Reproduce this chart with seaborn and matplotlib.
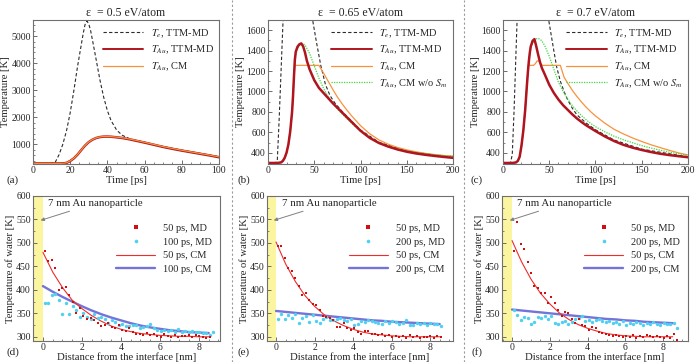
import numpy as np
import seaborn as sb
import matplotlib.pyplot as plt
from matplotlib.lines import Line2D
from matplotlib.ticker import MultipleLocator, AutoMinorLocator
from matplotlib.legend_handler import HandlerLine2D

# ---- datos: paneles superiores (temperatura vs tiempo) ----
titles = ['ε  = 0.5 eV/atom', 'ε  = 0.65 eV/atom', 'ε  = 0.7 eV/atom']

te_a_time = [0, 5, 10, 12, 14, 16, 18, 20, 22, 24, 26, 27, 28, 29, 30, 31, 32, 34, 36, 38,
             40, 42, 45, 48, 52, 56, 60, 65, 70, 75, 80, 85, 90, 95, 100]
te_a = [300, 300, 305, 350, 620, 1000, 1500, 2170, 3000, 3900, 4700, 5100, 5430, 5560, 5450,
        5200, 4850, 4120, 3380, 2750, 2250, 1880, 1530, 1340, 1210, 1150, 1085, 1005, 925, 855,
        790, 730, 670, 610, 545]
au_a_time = [0, 5, 10, 15, 17, 18, 20, 22, 24, 26, 28, 30, 32, 34, 36, 38, 40, 42, 45, 48,
             52, 56, 60, 65, 70, 75, 80, 85, 90, 95, 100]
a_md = [300, 300, 300, 302, 310, 320, 390, 490, 630, 800, 960, 1090, 1180, 1240, 1275, 1290,
        1292, 1286, 1265, 1240, 1190, 1130, 1070, 990, 910, 840, 775, 715, 655, 595, 530]
a_cm = [300, 300, 300, 303, 312, 325, 395, 495, 635, 805, 965, 1095, 1185, 1245, 1280, 1295,
        1296, 1290, 1272, 1248, 1200, 1142, 1082, 1002, 922, 852, 786, 726, 666, 606, 542]

t_bc = [0, 5, 10, 14, 16, 18, 20, 22, 24, 26, 27, 28, 29, 30, 32, 34, 36, 38, 40, 42,
        45, 50, 55, 60, 65, 70, 75, 80, 85, 90, 95, 100, 110, 120, 130, 140, 150, 160, 170, 180,
        190, 200]
te_b_time = [0, 8, 10, 12, 14, 16, 18, 22, 30, 40, 46, 48, 52, 57, 62, 67, 72, 80, 90, 100,
             120, 150, 200]
te_b = [300, 300, 320, 720, 1180, 1640, 2050, 2700, 3300, 2500, 1900, 1710, 1500, 1255, 1070,
        960, 890, 805, 712, 622, 502, 415, 355]
b_md = [300, 300, 300, 305, 320, 350, 400, 480, 610, 800, 950, 1140, 1310, 1390, 1440, 1462,
        1470, 1440, 1380, 1300, 1215, 1110, 1035, 985, 935, 885, 840, 795, 750, 705, 660, 615,
        545, 495, 460, 432, 410, 393, 380, 369, 359, 350]
b_cm = [300, 300, 300, 305, 320, 350, 400, 480, 610, 800, 950, 1140, 1255, 1255, 1255, 1255,
        1255, 1255, 1255, 1255, 1255, 1255, 1255, 1180, 1100, 1020, 945, 880, 820, 765, 715, 665,
        585, 525, 483, 452, 428, 409, 394, 382, 373, 367]
b_nosm = [300, 300, 300, 305, 320, 350, 400, 480, 610, 800, 950, 1140, 1290, 1360, 1420, 1448,
          1462, 1466, 1455, 1420, 1370, 1250, 1130, 1030, 950, 885, 830, 780, 735, 692, 650, 612,
          548, 500, 465, 438, 418, 402, 390, 380, 372, 366]

te_c_time = [0, 8, 10, 12, 14, 16, 18, 22, 30, 40, 46, 49, 54, 58, 62, 66, 70, 75, 80, 90,
             100, 120, 150, 200]
te_c = [300, 300, 380, 820, 1370, 1900, 2350, 2900, 3400, 2700, 2050, 1720, 1450, 1240, 1100,
        1000, 915, 835, 770, 690, 625, 525, 435, 360]
c_md = [300, 300, 300, 305, 320, 360, 470, 620, 820, 1080, 1200, 1300, 1380, 1440, 1495, 1512,
        1440, 1360, 1287, 1230, 1170, 1065, 985, 920, 865, 820, 775, 735, 700, 668, 640, 612,
        560, 515, 478, 450, 427, 407, 390, 377, 366, 356]
c_cm_time = [0, 5, 10, 14, 16, 18, 20, 22, 24, 26, 27, 27.5, 33, 35, 37, 39, 41, 43, 62, 66,
             70, 75, 80, 85, 90, 95, 100, 110, 120, 130, 140, 150, 160, 170, 180, 190, 200]
c_cm = [300, 300, 300, 305, 320, 360, 470, 620, 820, 1080, 1200, 1255, 1255, 1272, 1300, 1295,
        1262, 1255, 1255, 1140, 1080, 1010, 950, 895, 845, 800, 760, 690, 630, 585, 545, 510,
        478, 450, 423, 398, 378]
c_nosm = [300, 300, 300, 305, 320, 360, 470, 620, 820, 1080, 1200, 1300, 1380, 1430, 1475, 1500,
          1515, 1519, 1510, 1495, 1450, 1345, 1215, 1090, 1000, 925, 860, 808, 762, 722, 686, 655,
          605, 562, 527, 498, 470, 446, 425, 405, 390, 376]

# ---- datos: paneles inferiores (temperatura del agua vs distancia) ----
bins_nm = [0.10, 0.28, 0.46, 0.64, 0.82, 1.00, 1.18, 1.36, 1.54, 1.72, 1.90, 2.08, 2.26, 2.44,
           2.62, 2.80, 2.98, 3.16, 3.34, 3.52, 3.70, 3.88, 4.06, 4.24, 4.42, 4.60, 4.78, 4.96,
           5.14, 5.32, 5.50, 5.68, 5.86, 6.04, 6.22, 6.40, 6.58, 6.76, 6.94, 7.12, 7.30, 7.48,
           7.66, 7.84, 8.02, 8.20, 8.38, 8.56, 8.74]
nan = np.nan
d_md50 = [483, 462, 464, 447, 400, 403, 406, 390, 374, 350, 362, 345, 338, 340, 335, 330, 322,
          325, 330, 320, 318, 326, 314, 312, 318, 310, 306, 305, 304, 308, 303, 305, 302, 300,
          305, 301, 299, 303, 300, 302, 301, 303, 300, 304, 302, 300, 298, 299, nan]
d_md100 = [373, 372, 388, 392, 378, 348, 372, 348, 365, 356, 342, 350, 342, 338, 348, 340, 342,
           338, 330, 336, 332, 326, 328, 324, 322, 326, 325, 318, 320, 323, 327, 318, 315, 313,
           315, 312, 314, 310, 316, 311, 312, 310, 312, 311, 310, 309, 308, 303, 311]
e_md50 = [493, 493, 467, 446, 440, 426, 408, 390, 393, 378, 370, 368, 358, 345, 342, 340, 336,
          320, 320, 330, 318, 315, 318, 310, 305, 312, 313, 305, 306, 304, 306, 302, 303, 300,
          301, 299, 302, 298, 303, 299, 301, 298, 300, 299, 301, 298, 301, 300, nan]
e_md200 = [338, 348, 337, 346, 340, 348, 330, 340, 344, 332, 346, 333, 330, 338, 342, 336, 335,
           338, 340, 336, 334, 338, 326, 328, 333, 332, 336, 333, 332, 330, 328, 333, 330, 334,
           332, 328, 330, 336, 326, 325, 330, 327, 329, 326, 330, 328, 327, 322, nan]
f_md50 = [483, 545, 498, 488, 460, 435, 408, 405, 393, 393, 372, 385, 372, 358, 345, 352, 350,
          338, 330, 338, 326, 322, 315, 320, 318, 310, 309, 305, 303, 302, 304, 301, 300, 302,
          299, 303, 298, 302, 300, 303, 301, 299, 302, 300, 298, 301, 297, 305, 293]
f_md200 = [358, 347, 336, 343, 340, 328, 332, 342, 340, 345, 338, 344, 330, 328, 331, 333, 327,
           332, 338, 340, 345, 334, 336, 332, 335, 338, 333, 331, 334, 330, 332, 328, 333, 326,
           330, 327, 332, 329, 326, 330, 327, 331, 328, 326, 330, 328, 327, 330, 319]

cm_x = [0, 0.5, 1, 1.5, 2, 2.5, 3, 3.5, 4, 4.5, 5, 5.5, 6, 6.5, 7, 7.5, 8, 8.5]
d_cm50 = [480, 438, 405, 378, 360, 345, 333, 323, 316, 311, 307, 305, 303, 302, 301, 301, 300, 300]
d_cm100 = [408, 396, 385, 375, 365, 356, 348, 341, 335, 329, 324, 320, 317, 314, 312, 310, 309, 308]
e_cm50 = [502, 455, 418, 388, 365, 347, 334, 324, 316, 310, 306, 304, 302, 301, 300, 300, 300, 300]
e_cm200 = [355, 353, 351, 349, 347, 345, 343, 341, 339, 337, 335, 334, 332, 331, 330, 329, 328, 327]
f_cm50 = [505, 460, 423, 393, 370, 351, 337, 326, 318, 312, 307, 304, 302, 301, 300, 300, 300, 300]
f_cm200 = [358, 356, 354, 352, 350, 348, 346, 344, 342, 340, 338, 337, 335, 334, 332, 331, 330, 329]

# ---- estilo ----
sb.set_theme(style='ticks')
plt.rcParams['font.family'] = ['Liberation Serif', 'DejaVu Serif']
plt.rcParams['mathtext.fontset'] = 'stix'
plt.rcParams['xtick.direction'] = 'in'
plt.rcParams['ytick.direction'] = 'in'

col_te = '#2b2b2b'
col_md = '#b0141e'
col_cm = '#f8923c'
col_nosm = '#3fd83f'
col_dot50 = '#d10f0f'
col_dot200 = '#4fd0f2'
col_line50 = '#ee2c2c'
col_line200 = '#6464d4'


class EndMarker(HandlerLine2D):
    # marcador al final del trazo en la leyenda
    def get_xdata(self, legend, xdescent, ydescent, width, height, fontsize):
        xdata, _ = super().get_xdata(legend, xdescent, ydescent, width, height, fontsize)
        return xdata, np.array([-xdescent + width * 0.98])


def style_ax(ax):
    for s in ax.spines.values():
        s.set_color('#707070')
        s.set_linewidth(0.8)
    ax.tick_params(which='both', labelsize=7, pad=1.5, color='#555555')
    ax.tick_params(which='major', length=3, width=0.6)
    ax.tick_params(which='minor', length=1.6, width=0.5)


fig = plt.figure(figsize=(6.96, 3.62), dpi=100)

top_pos = [[0.0474, 0.547, 0.2672, 0.398],
           [0.3851, 0.547, 0.2658, 0.398],
           [0.7227, 0.547, 0.2658, 0.398]]
bot_pos = [[0.0474, 0.058, 0.2687, 0.4006],
           [0.3836, 0.058, 0.2672, 0.4006],
           [0.7213, 0.058, 0.2672, 0.4006]]

lab_te = '$T_e$, TTM-MD'
lab_md = '$T_{Au}$, TTM-MD'
lab_cm = '$T_{Au}$, CM'
lab_nosm = '$T_{Au}$, CM w/o $S_m$'

# panel (a)
ax = fig.add_axes(top_pos[0])
sb.lineplot(x=te_a_time, y=te_a, ax=ax, color=col_te, linewidth=0.8, linestyle=(0, (3, 2)),
            estimator=None, sort=False, label=lab_te)
sb.lineplot(x=au_a_time, y=a_md, ax=ax, color=col_md, linewidth=1.8, estimator=None, sort=False,
            label=lab_md)
sb.lineplot(x=au_a_time, y=a_cm, ax=ax, color=col_cm, linewidth=0.9, estimator=None, sort=False,
            label=lab_cm)
ax.set_xlim(0, 100)
ax.set_ylim(280, 5600)
ax.xaxis.set_major_locator(MultipleLocator(20))
ax.xaxis.set_minor_locator(AutoMinorLocator(4))
ax.yaxis.set_major_locator(MultipleLocator(1000))
ax.yaxis.set_minor_locator(AutoMinorLocator(5))
top_axes = [ax]

# paneles (b) y (c)
for k, (te_t, te_v, md_v, cm_t, cm_v, ns_v) in enumerate([
        (te_b_time, te_b, b_md, t_bc, b_cm, b_nosm),
        (te_c_time, te_c, c_md, c_cm_time, c_cm, c_nosm)]):
    ax = fig.add_axes(top_pos[k + 1])
    sb.lineplot(x=te_t, y=te_v, ax=ax, color=col_te, linewidth=0.8, linestyle=(0, (3, 2)),
                estimator=None, sort=False, label=lab_te)
    sb.lineplot(x=cm_t, y=cm_v, ax=ax, color=col_cm, linewidth=0.9, estimator=None, sort=False,
                label=lab_cm)
    sb.lineplot(x=t_bc, y=ns_v, ax=ax, color=col_nosm, linewidth=0.9, linestyle=(0, (1, 1)),
                estimator=None, sort=False, label=lab_nosm)
    sb.lineplot(x=t_bc, y=md_v, ax=ax, color=col_md, linewidth=1.8, estimator=None, sort=False,
                label=lab_md)
    ax.set_xlim(0, 200)
    ax.set_ylim(290, 1700)
    ax.xaxis.set_major_locator(MultipleLocator(50))
    ax.xaxis.set_minor_locator(AutoMinorLocator(5))
    ax.yaxis.set_major_locator(MultipleLocator(200))
    ax.yaxis.set_minor_locator(AutoMinorLocator(2))
    top_axes.append(ax)

order = [lab_te, lab_md, lab_cm, lab_nosm]
for i, ax in enumerate(top_axes):
    style_ax(ax)
    h, l = ax.get_legend_handles_labels()
    hmap = dict(zip(l, h))
    labs = [o for o in order if o in hmap]
    leg = ax.legend([hmap[o] for o in labs], labs, loc='upper right', bbox_to_anchor=(1.0, 0.985),
                    frameon=False, fontsize=7.5, handlelength=3.9, handletextpad=0.7,
                    labelspacing=0.4, borderaxespad=0.1)
    for ln in leg.get_lines():
        if ln.get_color() == col_md:
            ln.set_linewidth(1.4)
    ax.set_title(titles[i], fontsize=8.5, pad=3)
    ax.set_xlabel('Time [ps]', fontsize=7.7, labelpad=0.5)
    ax.set_ylabel('Temperature [K]', fontsize=7.7, labelpad=1)

# paneles inferiores
bot_data = [(d_md50, d_md100, d_cm50, d_cm100, '100 ps'),
            (e_md50, e_md200, e_cm50, e_cm200, '200 ps'),
            (f_md50, f_md200, f_cm50, f_cm200, '200 ps')]
xlims = [(-0.51, 9.08), (-0.47, 9.19), (-0.53, 9.31)]
text_x = [0.26, 0.31, 0.26]

for i, (m50, mlate, c50, clate, late) in enumerate(bot_data):
    ax = fig.add_axes(bot_pos[i])
    ax.axvspan(xlims[i][0], 0, color='#fbf5a0', lw=0, zorder=0)
    sb.lineplot(x=cm_x, y=clate, ax=ax, color=col_line200, linewidth=1.7, alpha=0.9,
                estimator=None, sort=False)
    sb.lineplot(x=cm_x, y=c50, ax=ax, color=col_line50, linewidth=0.8, estimator=None, sort=False)
    sb.scatterplot(x=bins_nm, y=mlate, ax=ax, color=col_dot200, marker='o', s=6, linewidth=0,
                   zorder=3)
    sb.scatterplot(x=bins_nm, y=m50, ax=ax, color=col_dot50, marker='s', s=4.5, linewidth=0,
                   zorder=4)
    ax.set_xlim(*xlims[i])
    ax.set_ylim(291, 600)
    ax.xaxis.set_major_locator(MultipleLocator(2))
    ax.xaxis.set_minor_locator(AutoMinorLocator(4))
    ax.yaxis.set_major_locator(MultipleLocator(50))
    ax.yaxis.set_minor_locator(AutoMinorLocator(2))
    style_ax(ax)
    ax.set_xlabel('Distance from the interface [nm]', fontsize=7.7, labelpad=0)
    ax.set_ylabel('Temperature of water [K]', fontsize=7.7, labelpad=1)

    ax.annotate('7 nm Au nanoparticle', xy=(-0.12, 548), xytext=(text_x[i], 585),
                fontsize=7.8, va='center', ha='left',
                arrowprops=dict(arrowstyle='-|>', color='#808080', lw=0.7,
                                mutation_scale=5, shrinkA=1, shrinkB=0))

    hd = [Line2D([], [], ls='none', marker='s', ms=2.2, mew=0, color=col_dot50),
          Line2D([], [], ls='none', marker='o', ms=2.6, mew=0, color=col_dot200),
          Line2D([], [], color=col_line50, lw=0.8),
          Line2D([], [], color=col_line200, lw=1.7, alpha=0.9)]
    labels = ['50 ps, MD', late + ', MD', '50 ps, CM', late + ', CM']
    ax.legend(hd, labels, loc='upper right', bbox_to_anchor=(0.985, 0.845), frameon=False,
              fontsize=7.5, handlelength=3.7, handletextpad=0.8, labelspacing=0.42,
              borderaxespad=0.1,
              handler_map={hd[0]: EndMarker(numpoints=1), hd[1]: EndMarker(numpoints=1)})

# letras de panel
for x, y, s in [(0.010, 0.503, '(a)'), (0.341, 0.503, '(b)'), (0.676, 0.503, '(c)'),
                (0.010, 0.028, '(d)'), (0.341, 0.028, '(e)'), (0.678, 0.028, '(f)')]:
    fig.text(x, y, s, fontsize=8, ha='left', va='center')

# separadores verticales
for x in [232 / 696, 464 / 696]:
    fig.add_artist(Line2D([x, x], [0, 1], transform=fig.transFigure, color='#9a9a9a',
                          lw=0.8, ls=(0, (2, 2))))

fig.savefig('out.png', dpi=100)
